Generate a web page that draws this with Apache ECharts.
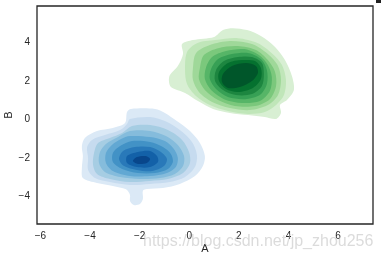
<!DOCTYPE html>
<html><head><meta charset="utf-8">
<script src="https://cdn.jsdelivr.net/npm/echarts@6/dist/echarts.min.js"></script>
<style>html,body{margin:0;padding:0;background:#fff}#c{width:381px;height:261px}</style>
</head><body><div id="c"></div>
<script>
// Tick labels
const xTicks = [-6, -4, -2, 0, 2, 4, 6];
const yTicks = [-4, -2, 0, 2, 4];
const xName = 'A';
const yName = 'B';

// Blue density contours (outer -> inner), [A, B] points
const blueL1 = [[-2.51,0.39],[-2.35,0.55],[-1.38,0.55],[-0.98,0.34],[-0.50,-0.08],[0.03,-0.60],[0.43,-1.22],[0.63,-1.90],[0.55,-2.42],[0.23,-2.94],[-0.38,-3.35],[-1.06,-3.56],[-1.71,-3.61],[-1.87,-3.70],[-1.87,-4.13],[-1.99,-4.39],[-2.23,-4.44],[-2.39,-4.23],[-2.39,-3.92],[-2.55,-3.63],[-3.08,-3.45],[-3.72,-3.30],[-4.29,-3.04],[-4.33,-2.52],[-4.29,-1.90],[-4.33,-1.38],[-4.21,-0.96],[-3.72,-0.60],[-3.08,-0.44],[-2.59,-0.18]];
const blueL2 = [[-2.39,0.03],[-1.58,0.13],[-0.98,-0.08],[-0.38,-0.55],[0.11,-1.17],[0.31,-1.84],[0.23,-2.47],[-0.17,-2.99],[-0.78,-3.25],[-1.58,-3.35],[-2.39,-3.40],[-3.20,-3.25],[-3.80,-3.04],[-4.08,-2.62],[-4.08,-2.00],[-4.12,-1.43],[-3.92,-1.06],[-3.40,-0.81],[-2.79,-0.55],[-2.51,-0.23]];
const blueL3 = [[-2.31,-0.34],[-1.58,-0.29],[-0.86,-0.55],[-0.29,-1.06],[-0.01,-1.69],[0.03,-2.26],[-0.25,-2.78],[-0.86,-3.09],[-1.58,-3.19],[-2.39,-3.25],[-3.20,-3.09],[-3.72,-2.83],[-3.88,-2.36],[-3.84,-1.74],[-3.68,-1.22],[-3.20,-0.96],[-2.71,-0.70]];
const blueL4 = [[-2.39,-0.60],[-1.58,-0.60],[-0.94,-0.86],[-0.46,-1.32],[-0.21,-1.90],[-0.25,-2.42],[-0.58,-2.83],[-1.18,-3.04],[-1.99,-3.09],[-2.79,-2.99],[-3.40,-2.73],[-3.64,-2.26],[-3.60,-1.69],[-3.36,-1.27],[-2.87,-0.91]];
const blueL5 = [[-2.39,-0.86],[-1.58,-0.91],[-0.98,-1.12],[-0.62,-1.53],[-0.46,-2.00],[-0.54,-2.47],[-0.90,-2.78],[-1.58,-2.94],[-2.39,-2.94],[-3.08,-2.68],[-3.36,-2.26],[-3.36,-1.74],[-3.12,-1.32],[-2.75,-1.01]];
const blueL6 = [[-2.31,-1.12],[-1.58,-1.17],[-1.06,-1.43],[-0.74,-1.79],[-0.66,-2.21],[-0.86,-2.57],[-1.38,-2.78],[-2.07,-2.78],[-2.71,-2.57],[-3.08,-2.21],[-3.08,-1.74],[-2.79,-1.38]];
const blueL7 = [[-2.19,-1.43],[-1.58,-1.43],[-1.14,-1.69],[-0.90,-2.05],[-1.02,-2.42],[-1.50,-2.68],[-2.11,-2.62],[-2.63,-2.42],[-2.83,-2.05],[-2.67,-1.64]];
const blueL8 = [[-2.07,-1.69],[-1.58,-1.64],[-1.30,-1.90],[-1.26,-2.21],[-1.58,-2.47],[-2.11,-2.47],[-2.51,-2.26],[-2.51,-1.90]];
const blueL9 = [[-2.11,-1.95],[-1.75,-1.90],[-1.58,-2.05],[-1.71,-2.26],[-2.07,-2.31],[-2.27,-2.16]];

// Green density contours (outer -> inner)
const greenL1 = [[-0.78,2.31],[-0.46,2.78],[-0.25,3.40],[-0.29,3.92],[0.15,4.13],[1.00,4.29],[1.36,4.65],[1.76,4.75],[2.33,4.65],[2.89,4.34],[3.46,3.77],[3.86,3.09],[4.14,2.26],[4.22,1.53],[3.94,1.01],[3.66,0.75],[3.70,0.34],[3.50,0.03],[3.05,0.13],[2.37,0.23],[1.64,0.34],[0.96,0.55],[0.35,0.96],[-0.17,1.38],[-0.74,1.69],[-0.82,2.00]];
const greenL2 = [[-0.17,2.57],[-0.09,3.51],[0.31,3.97],[1.04,4.13],[1.96,4.23],[2.77,3.97],[3.33,3.45],[3.74,2.83],[3.90,2.05],[3.82,1.27],[3.50,0.75],[3.05,0.39],[2.37,0.29],[1.56,0.44],[0.83,0.75],[0.27,1.22],[-0.09,1.84]];
const greenL3 = [[0.15,2.68],[0.27,3.45],[0.83,3.87],[1.64,4.08],[2.53,3.92],[3.17,3.40],[3.58,2.78],[3.70,2.05],[3.58,1.27],[3.17,0.75],[2.45,0.49],[1.64,0.60],[0.92,0.91],[0.39,1.43],[0.15,2.05]];
const greenL4 = [[0.43,2.68],[0.59,3.35],[1.16,3.71],[1.96,3.82],[2.69,3.61],[3.17,3.09],[3.46,2.47],[3.50,1.74],[3.25,1.06],[2.65,0.70],[1.84,0.70],[1.16,1.01],[0.63,1.53],[0.39,2.10]];
const greenL5 = [[0.67,2.68],[0.92,3.25],[1.48,3.56],[2.21,3.66],[2.81,3.35],[3.17,2.83],[3.33,2.21],[3.25,1.48],[2.85,0.96],[2.13,0.86],[1.40,1.06],[0.88,1.53],[0.63,2.10]];
const greenL6 = [[0.88,2.62],[1.16,3.14],[1.72,3.40],[2.41,3.45],[2.89,3.14],[3.13,2.57],[3.13,1.84],[2.85,1.27],[2.25,1.06],[1.56,1.17],[1.08,1.58],[0.83,2.10]];
const greenL7 = [[1.08,2.57],[1.40,3.04],[1.96,3.25],[2.53,3.25],[2.93,2.94],[3.01,2.36],[2.93,1.74],[2.53,1.32],[1.88,1.27],[1.36,1.53],[1.04,2.00]];
const greenL8 = [[1.20,2.47],[1.56,2.94],[2.13,3.09],[2.65,3.04],[2.89,2.68],[2.89,2.10],[2.57,1.64],[1.96,1.43],[1.48,1.58],[1.20,2.00]];
const greenL9 = [[1.36,2.36],[1.72,2.78],[2.29,2.94],[2.69,2.78],[2.77,2.42],[2.53,2.00],[2.04,1.69],[1.56,1.64],[1.32,1.95]];

const blueContours = [blueL1, blueL2, blueL3, blueL4, blueL5, blueL6, blueL7, blueL8, blueL9];
const greenContours = [greenL1, greenL2, greenL3, greenL4, greenL5, greenL6, greenL7, greenL8, greenL9];

// Styles
const blueColors = ['#dbe9f6','#c6dbef','#a6cde3','#85bcdc','#62a8d3','#4292c6','#2979b9','#1361a8','#08468b'];
const greenColors = ['#d8efd3','#c0e6b9','#9fd899','#7bc87c','#56b567','#37a055','#1d8640','#05712f','#00562a'];

const MINUS = '\u2212';
function fmt(list) {
  return function (v) {
    for (const t of list) if (Math.abs(v - t) < 1e-6) return (t < 0 ? MINUS + Math.abs(t) : String(t));
    return '';
  };
}
function makeRender(contours, colors) {
  return function (params, api) {
    const pts = contours[params.dataIndex].map(p => api.coord(p));
    return { type: 'polygon', shape: { points: pts, smooth: 0.3 }, style: { fill: colors[params.dataIndex], stroke: null } };
  };
}
const FONT = '"Liberation Sans", Arial, sans-serif';
const chart = echarts.init(document.getElementById('c'), null, { renderer: 'canvas' });
chart.setOption({
  animation: false,
  backgroundColor: '#fff',
  grid: { left: 37, right: 8, top: 6, bottom: 37, containLabel: false, outerBoundsMode: 'none', show: true, borderColor: '#262626', borderWidth: 1.3, backgroundColor: 'transparent' },
  xAxis: {
    type: 'value', min: -6.14, max: 7.41, splitNumber: 7,
    name: xName, nameLocation: 'middle', nameGap: 19, nameMoveOverlap: false,
    nameTextStyle: { color: '#262626', fontSize: 11, fontFamily: FONT },
    axisLine: { show: false }, axisTick: { show: false }, splitLine: { show: false },
    axisLabel: { color: '#262626', fontSize: 10, fontFamily: FONT, margin: 7, formatter: fmt(xTicks) }
  },
  yAxis: {
    type: 'value', min: -5.43, max: 5.90, splitNumber: 6,
    name: yName, nameLocation: 'middle', nameGap: 23, nameMoveOverlap: false,
    nameTextStyle: { color: '#262626', fontSize: 11, fontFamily: FONT },
    axisLine: { show: false }, axisTick: { show: false }, splitLine: { show: false },
    axisLabel: { color: '#262626', fontSize: 10, fontFamily: FONT, margin: 7, formatter: fmt(yTicks) }
  },
  series: [
    { type: 'custom', coordinateSystem: 'cartesian2d', clip: true, renderItem: makeRender(blueContours, blueColors), data: blueContours.map(c => [c[0][0], c[0][1]]) },
    { type: 'custom', coordinateSystem: 'cartesian2d', clip: true, renderItem: makeRender(greenContours, greenColors), data: greenContours.map(c => [c[0][0], c[0][1]]) }
  ],
  graphic: [
    { type: 'rect', left: 376, top: 0, shape: { width: 5, height: 3 }, style: { fill: '#222' } },
    { type: 'text', left: 143, top: 234, z: 100, style: { text: 'https://blog.csdn.net/jp_zhou256', fill: 'rgba(190,190,190,0.55)', font: '16px ' + FONT } }
  ]
});
</script></body></html>
